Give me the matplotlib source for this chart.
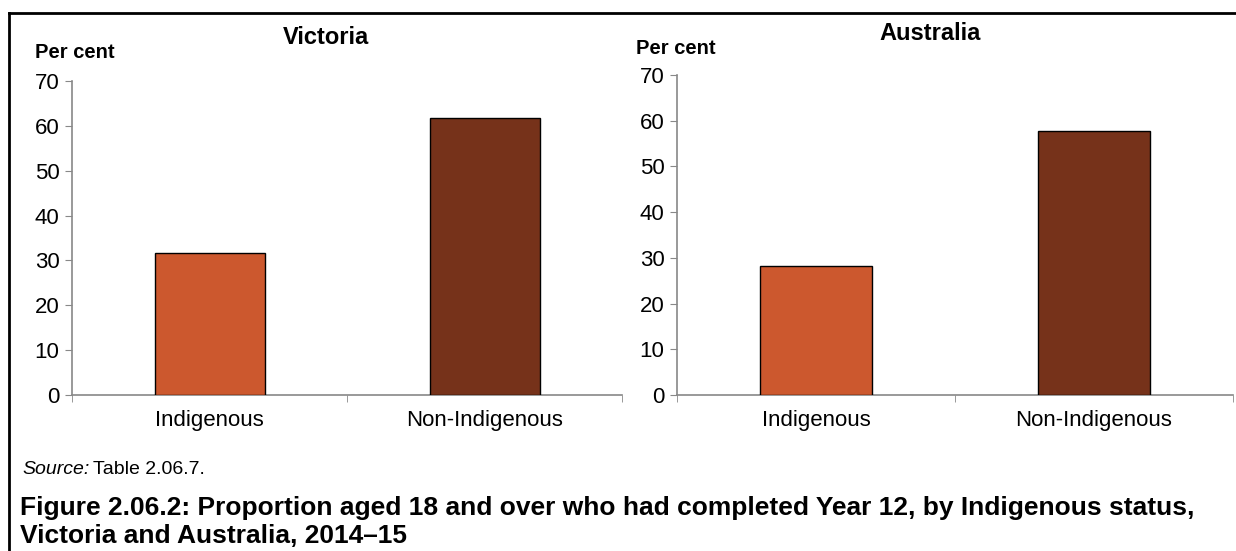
import matplotlib
matplotlib.use("Agg")
import matplotlib.pyplot as plt
from matplotlib.lines import Line2D

plt.rcParams['font.family'] = ['Liberation Sans', 'DejaVu Sans']

categories = ["Indigenous", "Non-Indigenous"]
victoria_values = [31.7, 61.8]
australia_values = [28.3, 57.8]
panel_titles = ["Victoria", "Australia"]
yticks = [0, 10, 20, 30, 40, 50, 60, 70]
bar_colors = ["#CC582E", "#76321A"]

fig = plt.figure(figsize=(12.36, 5.51), dpi=100)

axes_pos = [
    [72/1236, 1-395/551, (622-72)/1236, (395-81)/551],
    [677/1236, 1-395/551, (1233-677)/1236, (395-75)/551],
]
title_pos = [(326/1236, 1-37/551), (930/1236, 1-33/551)]
ylab_pos = [(35/1236, 1-53/551), (636/1236, 1-48/551)]

for pos, vals, title, tp, yp in zip(axes_pos, [victoria_values, australia_values],
                                    panel_titles, title_pos, ylab_pos):
    ax = fig.add_axes(pos)
    x = list(range(len(categories)))
    ax.bar(x, vals, width=0.4, color=bar_colors, edgecolor="black", linewidth=1.0, zorder=3)
    ax.set_xlim(-0.5, 1.5)
    ax.set_ylim(0, 70)
    ax.set_yticks(yticks)
    ax.set_yticklabels([str(t) for t in yticks], fontsize=16)
    ax.set_xticks(x)
    ax.set_xticklabels(categories, fontsize=16)
    ax.set_xticks([-0.5, 0.5, 1.5], minor=True)
    ax.tick_params(axis='x', which='major', length=0, pad=11)
    ax.tick_params(axis='x', which='minor', length=5, color="#888888", direction='out')
    ax.tick_params(axis='y', length=5, color="#888888", direction='out', pad=4)
    for s in ['top', 'right']:
        ax.spines[s].set_visible(False)
    for s in ['left', 'bottom']:
        ax.spines[s].set_color("#888888")
        ax.spines[s].set_linewidth(1.2)
    fig.text(tp[0], tp[1], title, fontsize=17, fontweight='bold', ha='center', va='center')
    fig.text(yp[0], yp[1], "Per cent", fontsize=14.5, fontweight='bold', ha='left', va='center')

# Frame lines
fig.add_artist(Line2D([9/1236, 1], [1-13/551, 1-13/551], color='black', linewidth=2, transform=fig.transFigure))
fig.add_artist(Line2D([9/1236, 9/1236], [0, 1-13/551], color='black', linewidth=2, transform=fig.transFigure))

# Source
renderer = fig.canvas.get_renderer()
t1 = fig.text(22/1236, 1-469/551, "Source:", fontsize=14, style='italic', ha='left', va='center')
bb = t1.get_window_extent(renderer=renderer)
fig.text((bb.x1 + 4)/1236, 1-469/551, "Table 2.06.7.", fontsize=14, ha='left', va='center')

# Caption
fig.text(20/1236, 1-508/551,
         "Figure 2.06.2: Proportion aged 18 and over who had completed Year 12, by Indigenous status,",
         fontsize=19, fontweight='bold', ha='left', va='center')
fig.text(20/1236, 1-536/551, "Victoria and Australia, 2014\u201315",
         fontsize=19, fontweight='bold', ha='left', va='center')

fig.savefig("out.png", dpi=100)
